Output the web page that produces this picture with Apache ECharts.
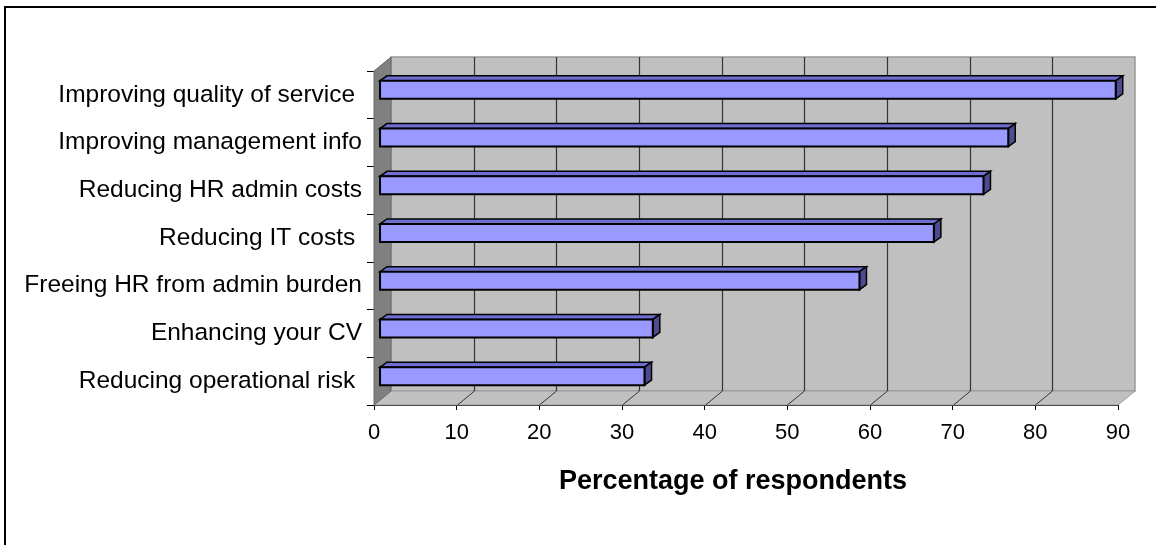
<!DOCTYPE html>
<html>
<head>
<meta charset="utf-8">
<script src="https://cdn.jsdelivr.net/npm/echarts@6/dist/echarts.min.js"></script>
<style>
  html, body { margin: 0; padding: 0; background: #fff; }
  #chart { width: 1156px; height: 545px; }
</style>
</head>
<body>
<div id="chart"></div>
<script>
// Survey: perceived benefits, share of respondents (%)
const categories = [
  'Improving quality of service ',
  'Improving management info',
  'Reducing HR admin costs',
  'Reducing IT costs ',
  'Freeing HR from admin burden',
  'Enhancing your CV',
  'Reducing operational risk '
];
const percentages = [89, 76, 73, 67, 58, 33, 32];
const xTicks = [0, 10, 20, 30, 40, 50, 60, 70, 80, 90];
const axisTitle = 'Percentage of respondents';

const FONT = '"Liberation Sans", Arial, Helvetica, sans-serif';

// 3D look: depth of the walls and of the bars (screen offsets)
const WALL_DEPTH = [17, -14];
const BAR_OFFSET = [6, -5];
const BAR_DEPTH = [7, -5];
const BAR_HEIGHT = 18;

function renderWalls(params, api) {
  const n = categories.length;
  const band = api.size([0, 1])[1];
  const top = Math.round(api.coord([0, 0])[1] - band / 2);
  const bottom = Math.round(api.coord([0, n - 1])[1] + band / 2);
  const xMin = Math.round(api.coord([xTicks[0], 0])[0]);
  const xMax = Math.round(api.coord([xTicks[xTicks.length - 1], 0])[0]);
  const dx = WALL_DEPTH[0], dy = WALL_DEPTH[1];
  const children = [];
  // back wall
  children.push({
    type: 'polygon',
    shape: { points: [[xMin + dx, top + dy], [xMax + dx, top + dy], [xMax + dx, bottom + dy], [xMin + dx, bottom + dy]] },
    style: { fill: '#c0c0c0', stroke: '#999999', lineWidth: 1.5 }
  });
  // floor
  children.push({
    type: 'polygon',
    shape: { points: [[xMin, bottom], [xMax, bottom], [xMax + dx, bottom + dy], [xMin + dx, bottom + dy]] },
    style: { fill: '#c0c0c0', stroke: '#999999', lineWidth: 1 }
  });
  // gridlines on back wall and floor
  xTicks.forEach(function (t) {
    if (t === xTicks[0] || t === xTicks[xTicks.length - 1]) return;
    const x = Math.round(api.coord([t, 0])[0]) + 0.5;
    children.push({
      type: 'line',
      shape: { x1: x + dx, y1: top + dy, x2: x + dx, y2: bottom + dy },
      style: { stroke: '#333333', lineWidth: 1.2 }
    });
    children.push({
      type: 'line',
      shape: { x1: x, y1: bottom, x2: x + dx, y2: bottom + dy },
      style: { stroke: '#333333', lineWidth: 1 }
    });
  });
  // side wall
  children.push({
    type: 'polygon',
    shape: { points: [[xMin, top], [xMin + dx, top + dy], [xMin + dx, bottom + dy], [xMin, bottom]] },
    style: { fill: '#808080', stroke: '#6a6a6a', lineWidth: 1 }
  });
  return { type: 'group', children: children };
}

function renderBar(params, api) {
  const v = api.value(0);
  const idx = api.value(1);
  const p0 = api.coord([0, idx]);
  const p1 = api.coord([v, idx]);
  const xa = p0[0] + BAR_OFFSET[0];
  const xb = p1[0] + BAR_OFFSET[0];
  const yc = p0[1] + BAR_OFFSET[1];
  const yt = yc - BAR_HEIGHT / 2;
  const yb = yc + BAR_HEIGHT / 2;
  const ddx = BAR_DEPTH[0], ddy = BAR_DEPTH[1];
  return {
    type: 'group',
    children: [
      {
        type: 'polygon',
        shape: { points: [[xa, yt], [xb, yt], [xb + ddx, yt + ddy], [xa + ddx, yt + ddy]] },
        style: { fill: '#6e6ed0', stroke: '#000', lineWidth: 1.5, lineJoin: 'miter' }
      },
      {
        type: 'polygon',
        shape: { points: [[xb, yt], [xb + ddx, yt + ddy], [xb + ddx, yb + ddy], [xb, yb]] },
        style: { fill: '#4c4c8e', stroke: '#000', lineWidth: 1.5, lineJoin: 'miter' }
      },
      {
        type: 'rect',
        shape: { x: xa, y: yt, width: xb - xa, height: BAR_HEIGHT },
        style: { fill: '#9999ff', stroke: '#000', lineWidth: 2 }
      }
    ]
  };
}

const chart = echarts.init(document.getElementById('chart'), null, { renderer: 'canvas' });
chart.setOption({
  backgroundColor: '#ffffff',
  animation: false,
  textStyle: { fontFamily: FONT },
  graphic: [{
    type: 'rect',
    shape: { x: 5, y: 7, width: 1200, height: 600 },
    style: { fill: 'none', stroke: '#000', lineWidth: 2 },
    z: 100
  }],
  grid: { left: 374, right: 38, top: 71, bottom: 140, containLabel: false },
  xAxis: {
    type: 'value',
    min: xTicks[0],
    max: xTicks[xTicks.length - 1],
    interval: 10,
    axisLine: { show: true, lineStyle: { color: '#000', width: 1 } },
    axisTick: { show: true, length: 5, lineStyle: { color: '#000' } },
    splitLine: { show: false },
    axisLabel: { color: '#000', fontSize: 22, margin: 17, fontFamily: FONT },
    name: axisTitle,
    nameLocation: 'middle',
    nameGap: 63,
    nameTextStyle: {
      color: '#000', fontSize: 27, fontWeight: 'bold', fontFamily: FONT,
      padding: [0, 26, 0, 0]
    }
  },
  yAxis: {
    type: 'category',
    data: categories,
    inverse: true,
    axisLine: { show: true, lineStyle: { color: '#000', width: 1 } },
    axisTick: { show: true, length: 7, lineStyle: { color: '#000' } },
    splitLine: { show: false },
    axisLabel: { color: '#000', fontSize: 24.5, margin: 12, fontFamily: FONT }
  },
  series: [
    {
      type: 'custom',
      coordinateSystem: 'cartesian2d',
      clip: false,
      silent: true,
      z: 1,
      data: [[0, 0]],
      encode: { x: 0, y: 1 },
      renderItem: renderWalls
    },
    {
      type: 'custom',
      coordinateSystem: 'cartesian2d',
      clip: false,
      z: 2,
      data: percentages.map(function (v, i) { return [v, i]; }),
      encode: { x: 0, y: 1 },
      renderItem: renderBar
    }
  ]
});
</script>
</body>
</html>
